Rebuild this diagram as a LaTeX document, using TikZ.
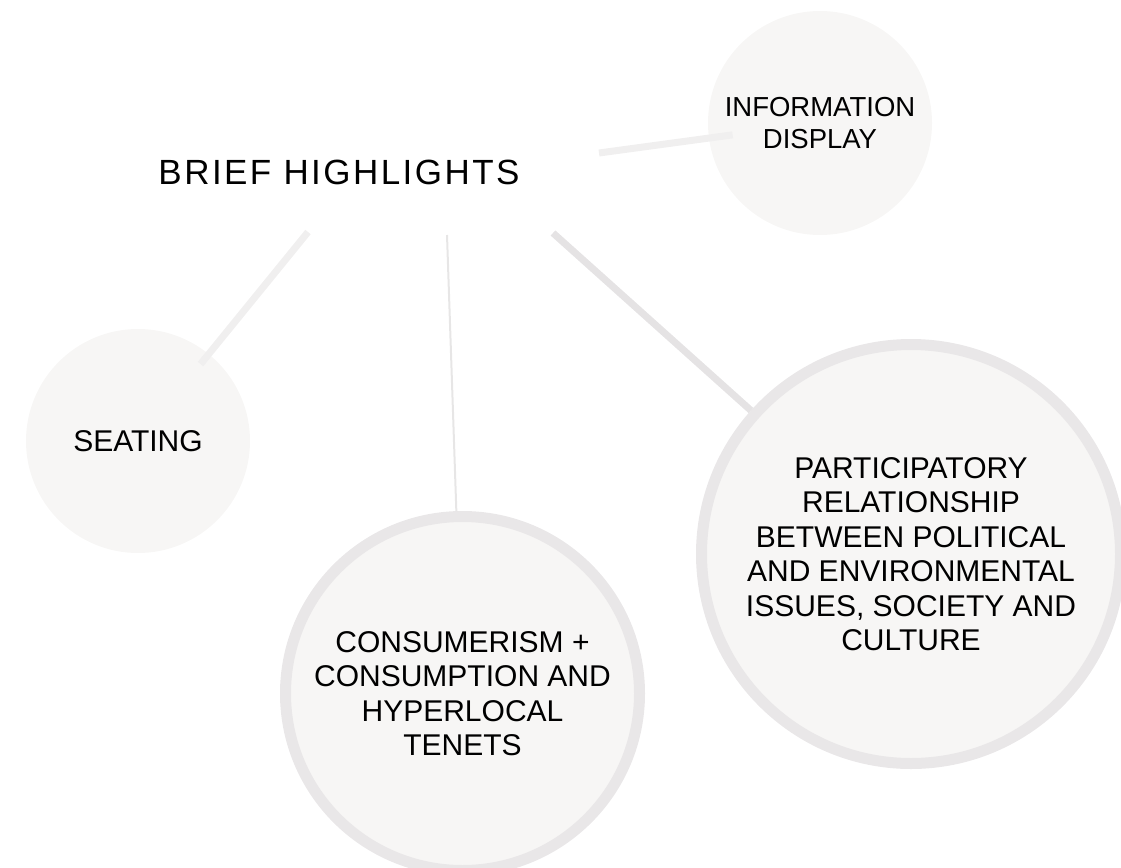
\documentclass[tikz,border=0pt]{standalone}
\usepackage{fontspec}
\setmainfont{Liberation Sans}
\newfontfamily\titlefont[LetterSpace=7]{Liberation Sans}
\definecolor{bubblefill}{HTML}{F7F6F5}
\definecolor{ringcol}{HTML}{E9E7E8}
\definecolor{linkpale}{HTML}{F0EFEF}
\definecolor{linkmid}{HTML}{E7E6E6}
\definecolor{linkdark}{HTML}{E5E3E4}
\begin{document}
\begin{tikzpicture}[x=1pt,y=-1pt,
  bubble/.style={circle, fill=bubblefill, inner sep=0pt, align=center, text=black},
  ringed/.style={bubble, draw=ringcol, line width=11pt},
  bodytext/.style={font=\fontsize{30}{34.5}\selectfont},
  thicklink/.style={line width=7pt},
  thinlink/.style={line width=2pt}]
\useasboundingbox (0,0) rectangle (1121,867);
% circles
\node[bubble, minimum size=224pt, font=\fontsize{27.5}{32}\selectfont] (info) at (820,123) {INFORMATION\\DISPLAY};
\node[bubble, minimum size=224pt, bodytext] (seat) at (138,441) {SEATING};
\node[ringed, minimum size=354pt, bodytext] (cons) at (462.5,693.5) {CONSUMERISM +\\CONSUMPTION AND\\HYPERLOCAL\\TENETS};
\node[ringed, minimum size=419pt, bodytext] (part) at (911,554) {PARTICIPATORY\\RELATIONSHIP\\BETWEEN POLITICAL\\AND ENVIRONMENTAL\\ISSUES, SOCIETY AND\\CULTURE};
% title
\node[font=\titlefont\fontsize{35}{40}\selectfont, text=black] (title) at (339,172.5) {BRIEF HIGHLIGHTS};
% connector start points
\coordinate (sInfo) at (599,153);
\coordinate (sSeat) at (308,232);
\coordinate (sCons) at (447,235);
\coordinate (sPart) at (553,233);
% connectors
\draw[thicklink, draw=linkpale, shorten >=-24pt] (sInfo) -- (info);
\draw[thicklink, draw=linkpale, shorten >=-13pt] (sSeat) -- (seat);
\draw[thinlink, draw=linkmid] (sCons) -- (cons);
\draw[thicklink, draw=linkdark] (sPart) -- (part);
\end{tikzpicture}
\end{document}
